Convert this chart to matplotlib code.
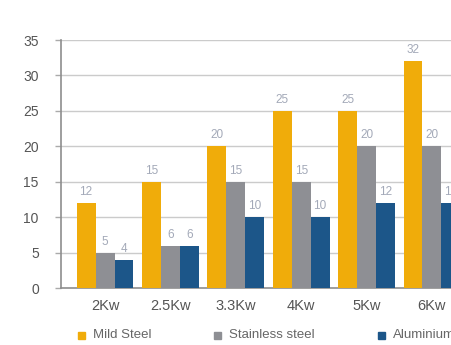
import matplotlib
matplotlib.use("Agg")
import matplotlib.pyplot as plt
import numpy as np

plt.rcParams['font.family'] = ['Liberation Sans', 'DejaVu Sans']

categories = ["2Kw", "2.5Kw", "3.3Kw", "4Kw", "5Kw", "6Kw"]
series_names = ["Mild Steel", "Stainless steel", "Aluminium"]
mild_steel = [12, 15, 20, 25, 25, 32]
stainless_steel = [5, 6, 15, 15, 20, 20]
aluminium = [4, 6, 10, 10, 12, 12]
y_ticks = [0, 5, 10, 15, 20, 25, 30, 35]

colors = ["#F0AC0A", "#8E8F94", "#1C5689"]
series = [mild_steel, stainless_steel, aluminium]

fig = plt.figure(figsize=(4.52, 3.45), dpi=100)
ax = fig.add_axes([0.135, 0.165, 0.918, 0.719])

x = np.arange(len(categories))
width = 0.29
for i, (vals, col, name) in enumerate(zip(series, colors, series_names)):
    pos = x + (i - 1) * width
    ax.bar(pos, vals, width=width, color=col, label=name, zorder=3)
    for p, v in zip(pos, vals):
        ax.text(p, v + 0.7, str(v), ha="center", va="bottom",
                fontsize=8.5, color="#A3A9B8", zorder=4)

ax.set_xlim(-0.673, len(categories) - 1 + 0.673)
ax.set_ylim(0, 35)
ax.set_yticks(y_ticks)
ax.set_xticks(x)
ax.set_xticklabels(categories)

ax.grid(axis="y", color="#CBCBCB", linewidth=1.0, zorder=0)
for s in ["top", "right"]:
    ax.spines[s].set_visible(False)
ax.spines["left"].set_color("#8E8E8E")
ax.spines["left"].set_linewidth(1.2)
ax.spines["bottom"].set_color("#8E8E8E")
ax.spines["bottom"].set_linewidth(1.2)
ax.tick_params(axis="y", length=4, width=1, color="#AAAAAA",
               labelsize=10, labelcolor="#555555", pad=12)
ax.tick_params(axis="x", length=0, labelsize=10.5, labelcolor="#555555", pad=8)

# legend row along the bottom edge
legend_items = [(0.172, series_names[0], colors[0]),
                (0.473, series_names[1], colors[1]),
                (0.836, series_names[2], colors[2])]
for xf, name, col in legend_items:
    fig.patches.append(plt.Rectangle((xf, 0.018), 0.016, 0.021,
                                     transform=fig.transFigure,
                                     color=col, figure=fig))
    fig.text(xf + 0.033, 0.029, name, fontsize=9.5, color="#666666",
             va="center", ha="left")

fig.savefig("out.png", dpi=100, facecolor="white")
